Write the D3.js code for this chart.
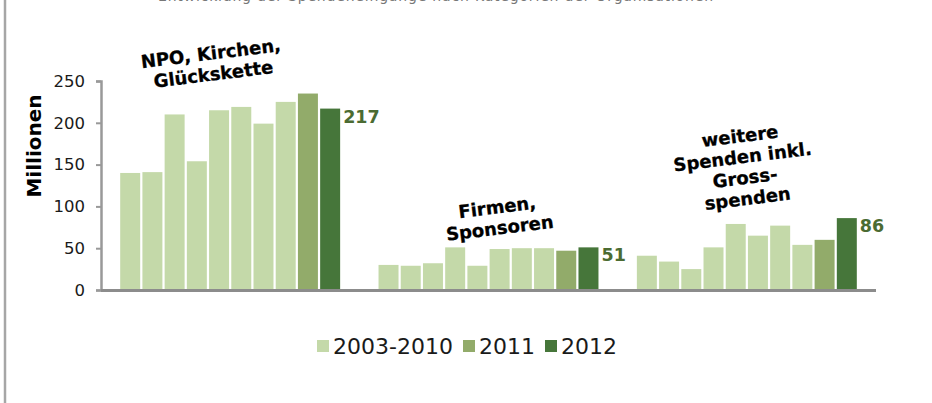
<!DOCTYPE html>
<html><head><meta charset="utf-8">
<script src="https://cdn.jsdelivr.net/npm/d3@7"></script>
<style>
html,body{margin:0;padding:0;background:#fff;}
svg{display:block;font-family:"DejaVu Sans",Verdana,sans-serif;}
</style></head>
<body>
<svg id="chart" width="932" height="403"></svg>
<script>
// ---- data ----
const categories = ["NPO, Kirchen, Glückskette", "Firmen, Sponsoren", "weitere Spenden inkl. Gross-spenden"];
const categoryLines = [["NPO, Kirchen,", "Glückskette"], ["Firmen,", "Sponsoren"], ["weitere", "Spenden inkl.", "Gross-", "spenden"]];
const years = ["2003","2004","2005","2006","2007","2008","2009","2010","2011","2012"];
const npo     = [140, 141, 210, 154, 215, 219, 199, 225, 235, 217];
const firmen  = [30, 29, 32, 51, 29, 49, 50, 50, 47, 51];
const weitere = [41, 34, 25, 51, 79, 65, 77, 54, 60, 86];
const legendLabels = ["2003-2010", "2011", "2012"];
const yTicks = [0, 50, 100, 150, 200, 250];
const yTitle = "Millionen";
const topTitle = "Entwicklung der Spendeneingänge nach Kategorien der Organisationen";

const seriesByCat = [npo, firmen, weitere];
const colors = {"2003-2010": "#c4d9a9", "2011": "#92ab6a", "2012": "#46763a"};
const yearGroup = y => (y === "2011" || y === "2012") ? y : "2003-2010";

// ---- layout ----
const svg = d3.select("#chart");
const plotLeft = 101, plotRight = 876, plotTop = 81, plotBottom = 290;
const labelDx = [-18, 10, -3];

// left frame border
svg.append("line").attr("x1", 5).attr("x2", 5).attr("y1", 0).attr("y2", 403)
  .attr("stroke", "#a6a6a6").attr("stroke-width", 2.5);

// title at top (mostly above the visible area, as in the reference)
svg.append("text").attr("x", 158).attr("y", 0.5).attr("font-size", 14).attr("fill", "#777")
  .attr("textLength", 555).attr("lengthAdjust", "spacing")
  .text(topTitle);

const x0 = d3.scaleBand().domain(categories).range([plotLeft, plotRight]).paddingInner(0.14).paddingOuter(0.07);
const x1 = d3.scaleBand().domain(years).range([0, x0.bandwidth()]).paddingInner(0.1).paddingOuter(0.05);
const y = d3.scaleLinear().domain([0, 250]).range([plotBottom, plotTop]);

// y axis
const yAxis = svg.append("g").attr("transform", `translate(${plotLeft},0)`)
  .call(d3.axisLeft(y).tickValues(yTicks).tickSize(5).tickPadding(11));
yAxis.select(".domain").attr("stroke", "#999").attr("stroke-width", 2.5);
yAxis.selectAll(".tick line").attr("stroke", "#999").attr("stroke-width", 2);
yAxis.selectAll(".tick text").attr("font-size", 16.5).attr("fill", "#1a1a1a")
  .attr("font-family", "'DejaVu Sans',Verdana,sans-serif");

// y title
svg.append("text").attr("transform", `translate(41,146) rotate(-90)`)
  .attr("text-anchor", "middle").attr("font-size", 20).attr("font-weight", "bold").attr("fill", "#000")
  .text(yTitle);

// bars
const groups = svg.selectAll("g.cat").data(categories).enter().append("g")
  .attr("class", "cat").attr("transform", d => `translate(${x0(d)},0)`);
groups.each(function(cat, ci) {
  const g = d3.select(this);
  const vals = seriesByCat[ci];
  g.selectAll("rect").data(years.map((yr, i) => ({yr, v: vals[i]}))).enter().append("rect")
    .attr("x", d => x1(d.yr)).attr("width", x1.bandwidth())
    .attr("y", d => y(d.v)).attr("height", d => y(0) - y(d.v))
    .attr("fill", d => colors[yearGroup(d.yr)]);
  // value label on last bar
  const last = years[years.length - 1];
  const lv = vals[vals.length - 1];
  g.append("text").attr("x", x1(last) + x1.bandwidth() + 3).attr("y", y(lv) + 8)
    .attr("dy", "0.35em").attr("font-size", 17.5).attr("font-weight", "bold").attr("fill", "#4b6b32")
    .text(lv);
  // category label
  const maxTop = y(d3.max(vals));
  const lines = categoryLines[ci];
  const lh = 21;
  const cx = x0.bandwidth() / 2 + labelDx[ci];
  const baseLast = maxTop - 13;
  const cy = baseLast - (lines.length - 1) * lh / 2 - 6;
  const t = g.append("text").attr("text-anchor", "middle").attr("font-size", 18).attr("font-weight", "bold")
    .attr("fill", "#000").attr("stroke", "#000").attr("stroke-width", 0.3)
    .attr("transform", `rotate(-7,${cx},${cy})`);
  lines.forEach((ln, i) => {
    t.append("tspan").attr("x", cx).attr("y", baseLast - (lines.length - 1 - i) * lh).text(ln);
  });
});

// x axis line
svg.append("line").attr("x1", plotLeft).attr("x2", plotRight).attr("y1", plotBottom + 0.5).attr("y2", plotBottom + 0.5)
  .attr("stroke", "#8c8c8c").attr("stroke-width", 3);

// legend
const legendX = [317, 463, 545];
const lg = svg.append("g");
legendLabels.forEach((lab, i) => {
  lg.append("rect").attr("x", legendX[i]).attr("y", 340).attr("width", 12).attr("height", 12)
    .attr("fill", colors[lab]);
  lg.append("text").attr("x", legendX[i] + 16).attr("y", 346).attr("dy", "0.36em")
    .attr("font-size", 22).attr("fill", "#1a1a1a").text(lab);
});
</script>
</body></html>
